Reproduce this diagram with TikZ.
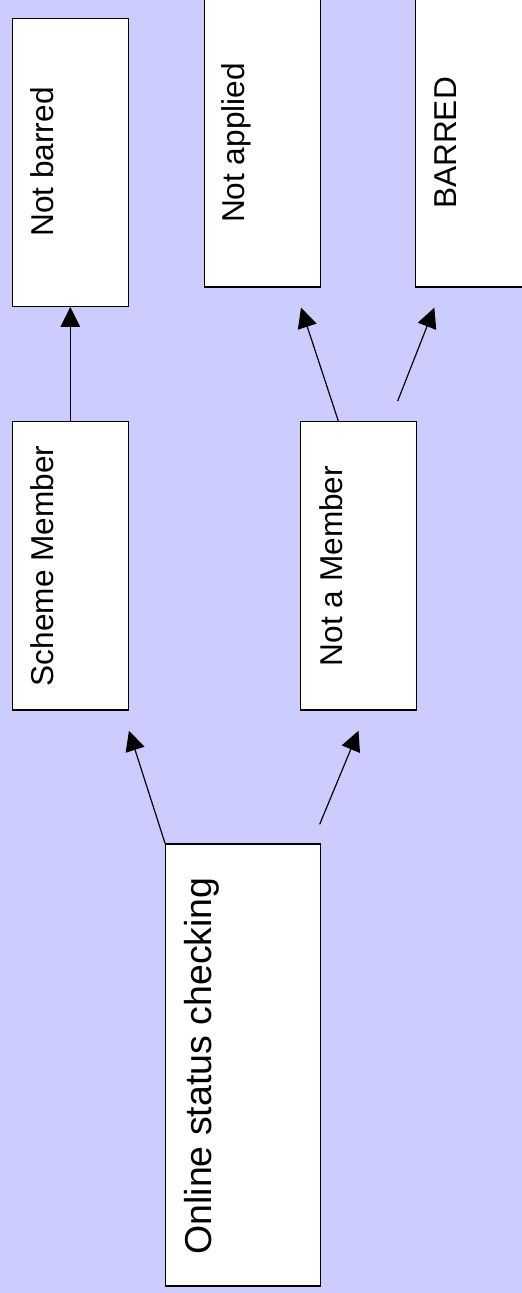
\documentclass[tikz,border=0pt]{standalone}
\usepackage{fontspec}
\setmainfont{Liberation Sans}
\usetikzlibrary{arrows.meta,calc}
\definecolor{bgcol}{RGB}{204,204,255}
\tikzset{
  box/.style={draw=black, fill=white, line width=1.3pt, inner sep=0pt},
  lbl/.style={rotate=90, anchor=base, inner sep=0pt, font=\fontsize{31.6}{36}\selectfont},
  biglbl/.style={rotate=90, anchor=base, inner sep=0pt, font=\fontsize{37.5}{42}\selectfont},
  arr/.style={line width=1.2pt, -{Triangle[length=20pt,width=19.5pt]}}
}
\begin{document}
\begin{tikzpicture}[x=1pt,y=1pt]
\useasboundingbox (0,0) rectangle (522,-1293);
\fill[bgcol] (0,0) rectangle (522,-1293);
% boxes
\node[box, minimum width=116pt, minimum height=288pt] (nb) at (70.3,-162.2) {};
\node[box, minimum width=115.6pt, minimum height=288pt] (na) at (262.5,-143) {};
\node[box, minimum width=115.6pt, minimum height=288pt] (ba) at (473.5,-143) {};
\node[box, minimum width=116pt, minimum height=288.3pt] (sm) at (70.3,-565.9) {};
\node[box, minimum width=115.6pt, minimum height=288.3pt] (nm) at (358.5,-565.9) {};
\node[box, minimum width=155pt, minimum height=442pt] (on) at (243.2,-1065) {};
% texts
\node[lbl] (nbt) at (53,-162) {Not barred};
\node[lbl] (nat) at (244,-143) {Not applied};
\node[lbl] (bat) at (456.5,-143) {BARRED};
\node[lbl] (smt) at (53,-566) {Scheme Member};
\node[lbl] (nmt) at (342,-566) {Not a Member};
\node[biglbl] (ont) at (211.5,-1066) {Online status checking};
% connector end points
\coordinate (tipna) at ($(na.south)+(38.5,-20)$);
\coordinate (tipba) at ($(ba.south west)+(19.3,-20)$);
\coordinate (fromba) at ($(nm.north east)+(-19.3,20)$);
\coordinate (tipsm) at ($(sm.south east)+(0,-20)$);
\coordinate (tipnm) at ($(nm.south)+(0,-20)$);
\coordinate (fromnm) at ($(on.north east)+(-1.7,19)$);
% connectors
\draw[arr] (sm.north) -- (nb.south);
\draw[arr] ($(nm.north west)+(38.3,0)$) -- (tipna);
\draw[arr] (fromba) -- (tipba);
\draw[arr] (on.north west) -- (tipsm);
\draw[arr] (fromnm) -- (tipnm);
\end{tikzpicture}
\end{document}
